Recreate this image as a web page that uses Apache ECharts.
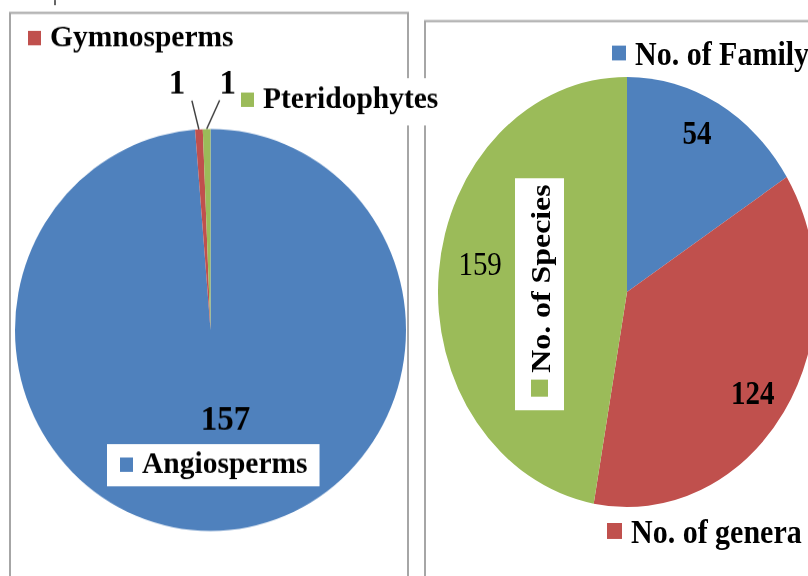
<!DOCTYPE html>
<html>
<head>
<meta charset="utf-8">
<script src="https://cdn.jsdelivr.net/npm/echarts@6/dist/echarts.min.js"></script>
<style>
  html, body { margin: 0; padding: 0; background: #fff; }
  #plants, #taxa { position: absolute; left: 0; top: 0; width: 808px; height: 576px; }
  /* both pies are drawn a little taller than wide */
  #plants { transform: scaleY(1.028); transform-origin: 0 330px; }
  #taxa { transform: scaleY(1.138); transform-origin: 0 292px; }
</style>
</head>
<body>
<div id="plants"></div>
<div id="taxa"></div>
<script>
// Plant groups (left pie)
const plantGroups = ['Angiosperms', 'Gymnosperms', 'Pteridophytes'];
const plantCounts = [157, 1, 1];

// Taxonomic ranks (right pie)
const rankNames = ['No. of Family', 'No. of genera', 'No. of Species'];
const rankCounts = [54, 124, 159];

const palette = ['#4F81BD', '#C0504D', '#9BBB59'];
const serif = '"Liberation Serif", "Times New Roman", serif';

function legendFor(names, idx, fontSize, extra) {
  return Object.assign({
    data: [{ name: names[idx], itemStyle: { color: palette[idx] } }],
    icon: 'rect',
    itemWidth: 13,
    itemHeight: 14,
    padding: 0,
    selectedMode: false,
    textStyle: { fontFamily: serif, fontWeight: 'bold', fontSize: fontSize, color: '#000', padding: [0, 0, 0, 4] }
  }, extra);
}

// ---------- left: plant groups ----------
const plants = echarts.init(document.getElementById('plants'));
plants.setOption({
  animation: false,
  color: palette,
  graphic: [
    { type: 'rect', z: 0, silent: true, shape: { x: 10, y: 21.6, width: 398, height: 620 },
      style: { fill: 'none', stroke: '#a6a6a6', lineWidth: 2 } },
    { type: 'rect', z: 0, silent: true, shape: { x: 425, y: 29.4, width: 500, height: 620 },
      style: { fill: 'none', stroke: '#a6a6a6', lineWidth: 2 } },
    { type: 'line', z: 0, silent: true, shape: { x1: 55, y1: 9, x2: 55, y2: 14 },
      style: { stroke: '#333', lineWidth: 1.5 } }
  ],
  legend: [
    legendFor(plantGroups, 1, 29.5, { left: 28, top: 31 }),
    legendFor(plantGroups, 2, 29.5, { left: 235, top: 85, padding: [6, 6, 10, 6], backgroundColor: '#fff' }),
    legendFor(plantGroups, 0, 29.5, { left: 107, top: 441, padding: [5, 12, 6, 13], backgroundColor: '#fff' })
  ],
  series: [{
    type: 'pie',
    center: [210.5, 330],
    radius: [0, 195.5],
    startAngle: 90,
    clockwise: true,
    avoidLabelOverlap: false,
    silent: true,
    data: plantGroups.map((name, i) => ({
      name: name,
      value: plantCounts[i],
      label: i === 0 ? { position: 'inside', offset: [11, -12] } : { position: 'outside' },
      labelLine: { show: i !== 0 }
    })),
    label: { show: true, formatter: '{c}', fontFamily: serif, fontWeight: 'bold', fontSize: 33, color: '#000' },
    labelLine: { length: 20, length2: 0, lineStyle: { color: '#404040', width: 1.5 } },
    labelLayout: function (p) {
      if (p.dataIndex === 0 || !p.labelLinePoints) return {};
      const s = p.labelLinePoints[0];
      const left = p.dataIndex === 1;
      const end = [s[0] + (left ? -7 : 13), s[1] - 28];
      return {
        x: end[0] + (left ? -15 : 8),
        y: end[1] - 15,
        align: 'center',
        verticalAlign: 'middle',
        labelLinePoints: [s, end, end]
      };
    }
  }]
});

// ---------- right: taxonomic ranks ----------
const taxa = echarts.init(document.getElementById('taxa'), null, { renderer: 'svg' });
const rankData = rankNames.map((name, i) => ({ name: name, value: rankCounts[i] }));
const labelNudge = [[-6, -2], [-5, 1], [10, -11]];
taxa.setOption({
  animation: false,
  color: palette,
  legend: [
    legendFor(rankNames, 0, 30, { left: 612, top: 67, itemWidth: 14, itemHeight: 13 }),
    legendFor(rankNames, 1, 30, { left: 607, top: 487, itemWidth: 15, itemHeight: 14 })
  ],
  graphic: [
    { type: 'rect', z: 100, silent: true, shape: { x: 515, y: 192, width: 49, height: 204 }, style: { fill: '#fff' } },
    { type: 'rect', z: 101, silent: true, shape: { x: 531, y: 369, width: 17, height: 15 }, style: { fill: palette[2] } },
    { type: 'text', z: 101, silent: true, x: 540, y: 363, rotation: Math.PI / 2,
      style: { text: rankNames[2], fontFamily: serif, fontWeight: 'bold', fontSize: 28, fill: '#000',
               align: 'left', verticalAlign: 'middle' } }
  ],
  series: [
    {
      type: 'pie',
      center: [627, 292],
      radius: [0, 189],
      startAngle: 90,
      clockwise: true,
      silent: true,
      label: { show: false },
      labelLine: { show: false },
      data: rankData
    },
    {
      // value labels placed on a ring near the rim
      type: 'pie',
      center: [627, 292],
      radius: [120, 189],
      startAngle: 90,
      clockwise: true,
      silent: true,
      itemStyle: { color: 'rgba(0,0,0,0)' },
      label: { show: true, position: 'inside', formatter: '{c}', fontFamily: serif, fontSize: 29, color: '#000' },
      labelLine: { show: false },
      data: rankData.map((d, i) => ({
        name: d.name, value: d.value,
        label: { fontWeight: i === 2 ? 'normal' : 'bold', offset: labelNudge[i] }
      }))
    }
  ]
});
</script>
</body>
</html>
